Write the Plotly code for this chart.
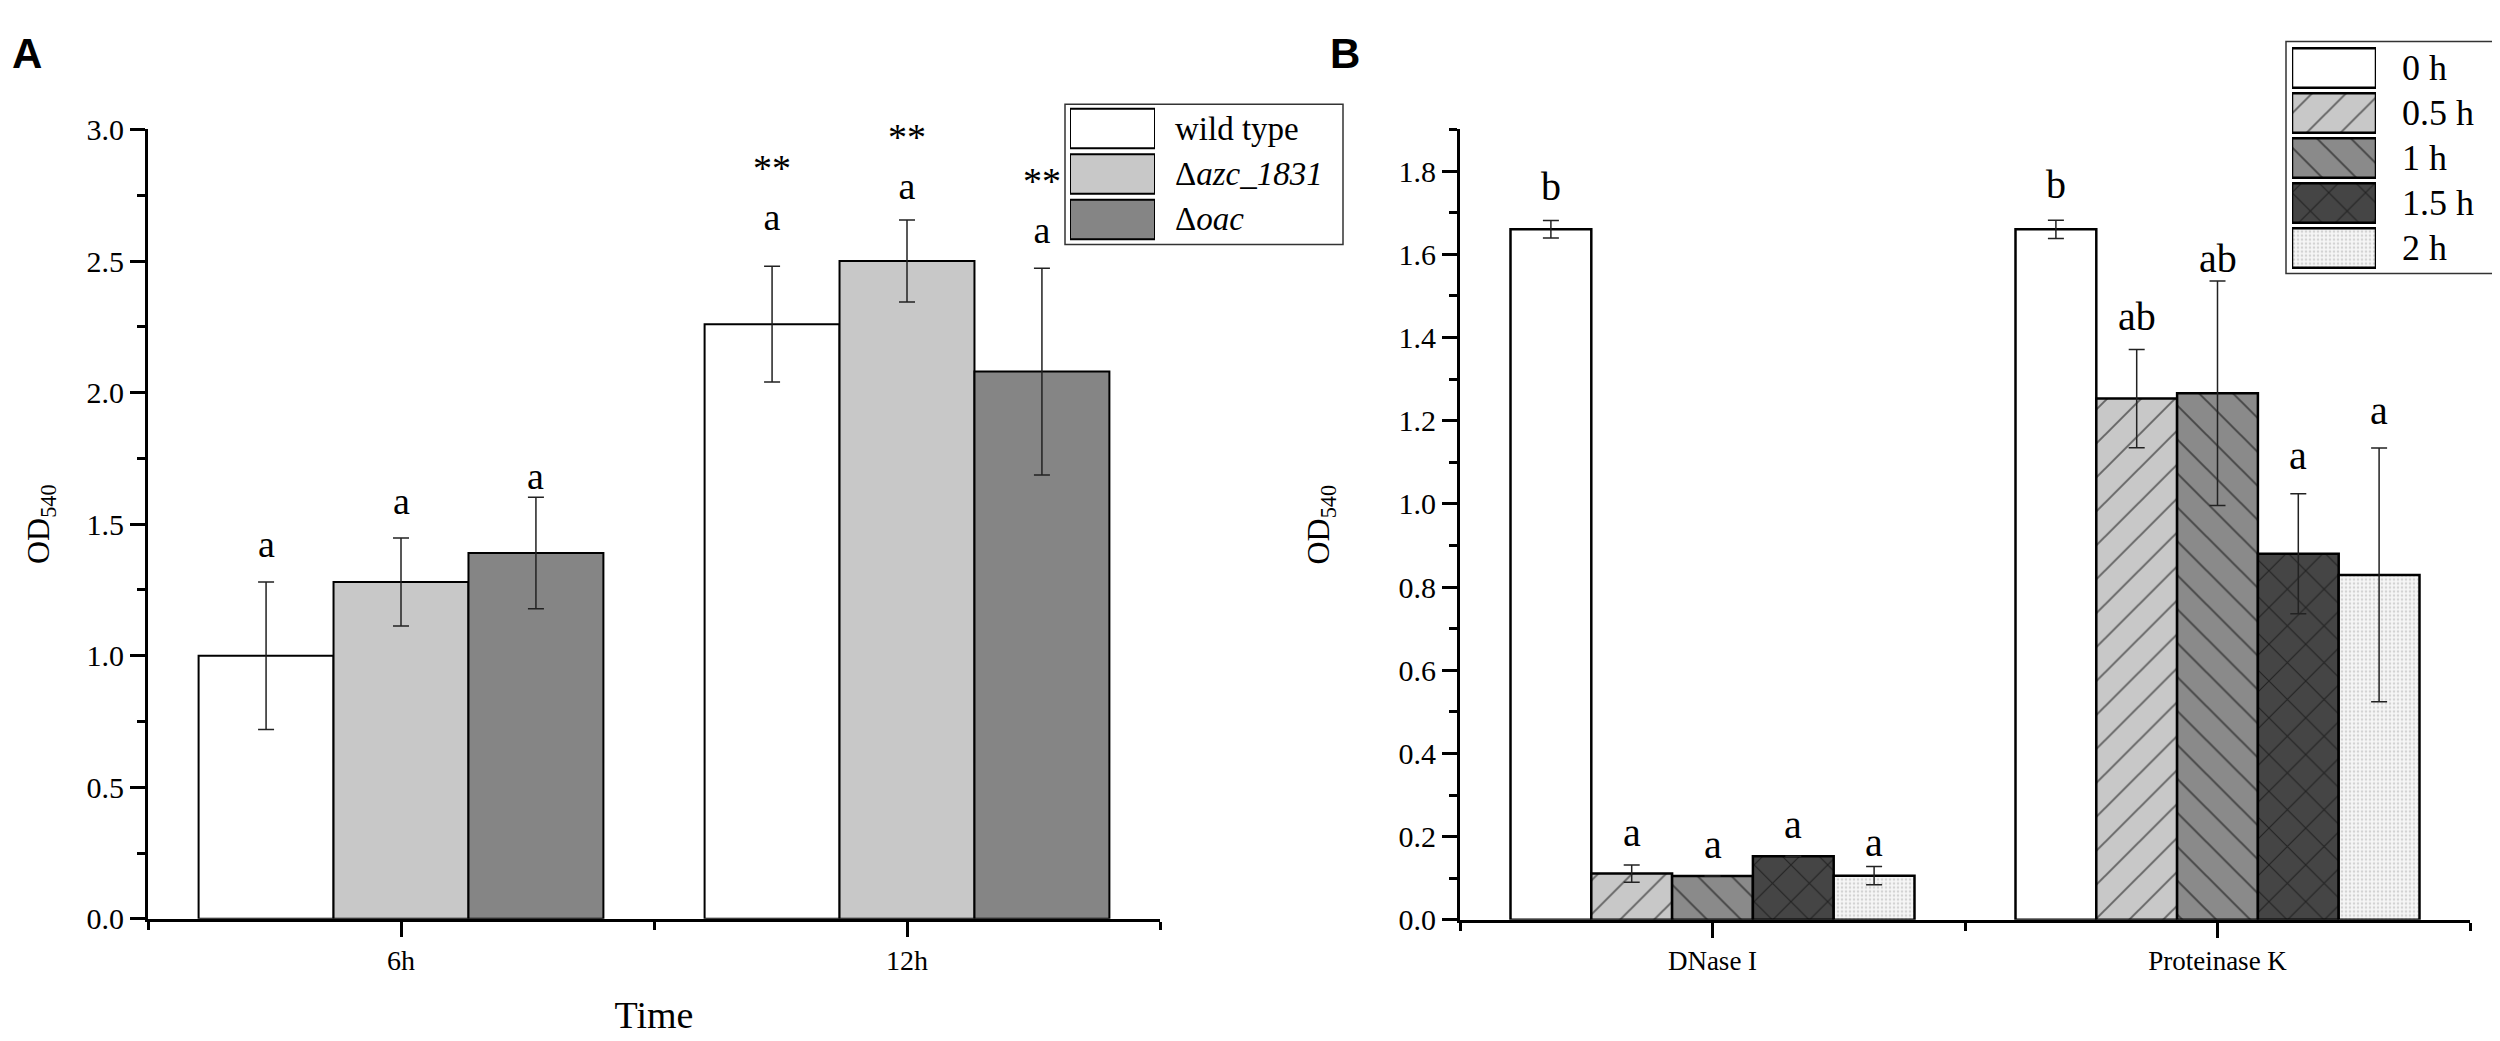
import plotly.graph_objects as go

# ---- panel A data (OD540 vs time) ----
categories_a = ["6h", "12h"]
series_a = ["wild type", "Δ<i>azc_1831</i>", "Δ<i>oac</i>"]
values_a = [
    [1.00, 2.26],   # wild type
    [1.28, 2.50],   # azc_1831
    [1.39, 2.08],   # oac
]
errors_a = [
    [0.28, 0.22],
    [0.167, 0.156],
    [0.212, 0.393],
]
letters_a = [["a", "**<br>a"], ["a", "**<br>a"], ["a", "**<br>a"]]
letters_a_y = [[1.425, 2.76], [1.587, 2.88], [1.682, 2.71]]

# ---- panel B data (OD540 after enzyme treatment) ----
categories_b = ["DNase I", "Proteinase K"]
series_b = ["0 h", "0.5 h", "1 h", "1.5 h", "2 h"]
values_b = [
    [1.66, 1.66],
    [0.111, 1.253],
    [0.105, 1.266],
    [0.153, 0.880],
    [0.106, 0.829],
]
errors_b = [
    [0.021, 0.022],
    [0.021, 0.118],
    [None, 0.27],
    [None, 0.144],
    [0.022, 0.305],
]
letters_b = [["b", "b"], ["a", "ab"], ["a", "ab"], ["a", "a"], ["a", "a"]]
letters_b_y = [[1.763, 1.767], [0.209, 1.450], [0.182, 1.589], [0.229, 1.116], [0.186, 1.225]]

W, H = 2500, 1041
SERIF = "Liberation Serif"


def px(x):
    return x / W


def py(y):
    return 1 - y / H


markers_a = [
    dict(color="white", line=dict(color="black", width=2)),
    dict(color="#c8c8c8", line=dict(color="black", width=2)),
    dict(color="#858585", line=dict(color="black", width=2)),
]
markers_b = [
    dict(color="white", line=dict(color="black", width=2.5)),
    dict(color="#c8c8c8", line=dict(color="black", width=2.5),
         pattern=dict(shape="/", fgcolor="black", bgcolor="#c8c8c8", size=24, solidity=0.08)),
    dict(color="#8a8a8a", line=dict(color="black", width=2.5),
         pattern=dict(shape="\\", fgcolor="black", bgcolor="#8a8a8a", size=24, solidity=0.08)),
    dict(color="#454545", line=dict(color="black", width=2.5),
         pattern=dict(shape="x", fgcolor="black", bgcolor="#454545", size=26, solidity=0.08)),
    dict(color="#f4f4f4", line=dict(color="black", width=2.5),
         pattern=dict(shape=".", fgcolor="#b0b0b0", bgcolor="#f6f6f6", size=4, solidity=0.35)),
]

fig = go.Figure()
xpos_a = list(range(len(categories_a)))
xpos_b = list(range(len(categories_b)))

for i, name in enumerate(series_a):
    fig.add_trace(go.Bar(
        x=xpos_a, y=values_a[i], name=name, marker=markers_a[i],
        error_y=dict(type="data", array=errors_a[i], color="#222", thickness=1.5, width=8),
        xaxis="x", yaxis="y", showlegend=False))

for i, name in enumerate(series_b):
    fig.add_trace(go.Bar(
        x=xpos_b, y=values_b[i], name=name, marker=markers_b[i],
        error_y=dict(type="data", array=errors_b[i], color="#222", thickness=1.5, width=8),
        xaxis="x2", yaxis="y2", showlegend=False))

# legend swatches drawn as a tiny bar subplot so they can be big and patterned
for i, name in enumerate(series_a):
    fig.add_trace(go.Bar(y=[name], x=[1], orientation="h", width=0.87,
                         marker=markers_a[i], xaxis="x3", yaxis="y3", showlegend=False,
                         hoverinfo="skip"))
for i, name in enumerate(series_b):
    fig.add_trace(go.Bar(y=[name], x=[1], orientation="h", width=0.88,
                         marker=markers_b[i], xaxis="x4", yaxis="y4", showlegend=False,
                         hoverinfo="skip"))

ann = []


def group_offsets(n, gap=0.2):
    w = (1 - gap) / n
    return [(k - (n - 1) / 2) * w for k in range(n)]


off_a = group_offsets(len(series_a))
for i in range(len(series_a)):
    for j, xc in enumerate(xpos_a):
        ann.append(dict(x=xc + off_a[i], y=letters_a_y[i][j], text=letters_a[i][j],
                        xref="x", yref="y", showarrow=False,
                        font=dict(family=SERIF, size=38, color="black")))

off_b = group_offsets(len(series_b))
for i in range(len(series_b)):
    for j, xc in enumerate(xpos_b):
        ann.append(dict(x=xc + off_b[i], y=letters_b_y[i][j], text=letters_b[i][j],
                        xref="x2", yref="y2", showarrow=False,
                        font=dict(family=SERIF, size=40, color="black")))

# legend labels
for name in series_a:
    ann.append(dict(x=px(1165), y=name, xref="paper", yref="y3", text=name,
                    showarrow=False, xanchor="left",
                    font=dict(family=SERIF, size=33, color="black")))
for name in series_b:
    ann.append(dict(x=px(2392), y=name, xref="paper", yref="y4", text=name,
                    showarrow=False, xanchor="left",
                    font=dict(family=SERIF, size=36, color="black")))

# panel letters
ann.append(dict(x=px(2), y=py(3), xref="paper", yref="paper", text="<b>A</b>",
                showarrow=False, xanchor="left", yanchor="top",
                font=dict(family="Liberation Sans", size=42, color="black")))
ann.append(dict(x=px(1320), y=py(3), xref="paper", yref="paper", text="<b>B</b>",
                showarrow=False, xanchor="left", yanchor="top",
                font=dict(family="Liberation Sans", size=42, color="black")))

shapes = [
    dict(type="rect", xref="paper", yref="paper", x0=px(1057), x1=px(1335),
         y0=py(227), y1=py(82), line=dict(color="#333", width=1.5)),
    dict(type="rect", xref="paper", yref="paper", x0=px(2278), x1=px(2493),
         y0=py(257), y1=py(17), line=dict(color="#333", width=1.5)),
]

axis_common = dict(showline=True, linecolor="black", linewidth=3, ticks="outside",
                   tickcolor="black", tickwidth=3, showgrid=False, zeroline=False,
                   mirror=False)

fig.update_layout(
    width=W, height=H,
    margin=dict(l=0, r=0, t=0, b=0),
    paper_bgcolor="white", plot_bgcolor="white",
    barmode="group", bargap=0.2, bargroupgap=0,
    font=dict(family=SERIF, color="black"),
    xaxis=dict(**axis_common, domain=[px(140), px(1152)], range=[-0.5, 1.5],
               tickvals=xpos_a, ticktext=categories_a, ticklen=15,
               minor=dict(ticks="outside", tick0=-0.5, dtick=1, ticklen=8,
                          tickwidth=3, tickcolor="black"),
               tickfont=dict(family=SERIF, size=28),
               title=dict(text="Time", font=dict(family=SERIF, size=38), standoff=26),
               anchor="y"),
    yaxis=dict(**axis_common, domain=[py(924), py(108)], range=[0, 3.0],
               dtick=0.5, tickformat=".1f", ticklen=15,
               minor=dict(ticks="outside", dtick=0.25, ticklen=8,
                          tickwidth=3, tickcolor="black"),
               tickfont=dict(family=SERIF, size=30),
               title=dict(text="OD<sub>540</sub>", font=dict(family=SERIF, size=32), standoff=28),
               anchor="x"),
    xaxis2=dict(**axis_common, domain=[px(1452), px(2462)], range=[-0.5, 1.5],
                tickvals=xpos_b, ticktext=categories_b, ticklen=15,
                minor=dict(ticks="outside", tick0=-0.5, dtick=1, ticklen=8,
                           tickwidth=3, tickcolor="black"),
                tickfont=dict(family=SERIF, size=27),
                anchor="y2"),
    yaxis2=dict(**axis_common, domain=[py(925), py(108)], range=[0, 1.9],
                dtick=0.2, tickformat=".1f", ticklen=15,
                minor=dict(ticks="outside", dtick=0.1, ticklen=8,
                           tickwidth=3, tickcolor="black"),
                tickfont=dict(family=SERIF, size=30),
                title=dict(text="OD<sub>540</sub>", font=dict(family=SERIF, size=32), standoff=60),
                anchor="x2"),
    xaxis3=dict(domain=[px(1062), px(1147)], range=[0, 1], visible=False,
                fixedrange=True, anchor="y3"),
    yaxis3=dict(domain=[py(224.5), py(83.5)], visible=False, autorange="reversed",
                type="category", fixedrange=True, anchor="x3"),
    xaxis4=dict(domain=[px(2284), px(2368)], range=[0, 1], visible=False,
                fixedrange=True, anchor="y4"),
    yaxis4=dict(domain=[py(253.75), py(21.25)], visible=False, autorange="reversed",
                type="category", fixedrange=True, anchor="x4"),
    annotations=ann,
    shapes=shapes,
)

fig.write_html("out.html")
